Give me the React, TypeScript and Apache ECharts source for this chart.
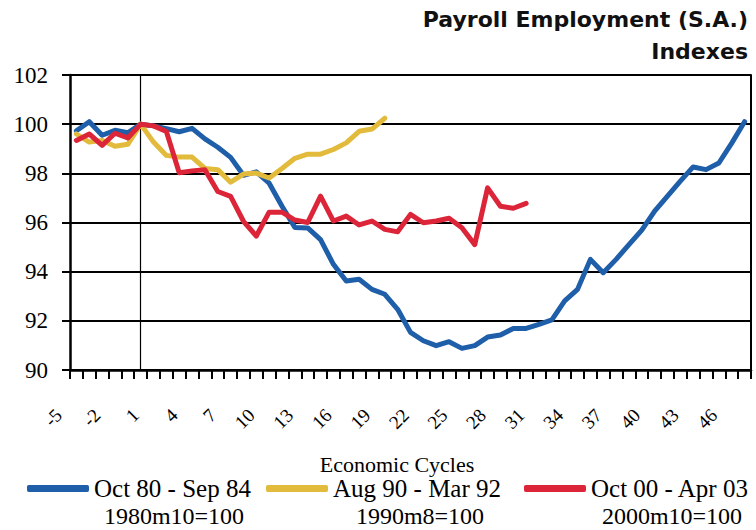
import React, { useEffect, useRef } from "react";
import * as echarts from "echarts";

// ---- data ----
const xCategories = [
  "-4", "-3", "-2", "-1", "0", "1", "2", "3", "4", "5", "6", "7", "8", "9", "10",
  "11", "12", "13", "14", "15", "16", "17", "18", "19", "20", "21", "22", "23", "24",
  "25", "26", "27", "28", "29", "30", "31", "32", "33", "34", "35", "36", "37", "38",
  "39", "40", "41", "42", "43", "44", "45", "46", "47", "48",
];
const xTickLabels = ["-5", "-2", "1", "4", "7", "10", "13", "16", "19", "22", "25", "28", "31", "34", "37", "40", "43", "46"];
const yTicks = [90, 92, 94, 96, 98, 100, 102];

const titleLines = ["Payroll Employment (S.A.)", "Indexes"];
const xAxisTitle = "Economic Cycles";
const seriesNames = ["Oct 80 - Sep 84", "Aug 90 - Mar 92", "Oct 00 - Apr 03"];
const seriesBases = ["1980m10=100", "1990m8=100", "2000m10=100"];
const seriesColors = ["#1f5ea8", "#e2bb3c", "#dc2538"];

const cycle1980 = [
  99.73, 100.1, 99.55, 99.75, 99.65, 100.0, 99.93, 99.82, 99.69, 99.83, 99.4, 99.06, 98.65,
  97.92, 98.06, 97.6, 96.66, 95.8, 95.78, 95.3, 94.3, 93.62, 93.69, 93.28, 93.08, 92.47,
  91.53, 91.19, 90.99, 91.15, 90.88, 90.99, 91.34, 91.42, 91.69, 91.69, 91.86, 92.04,
  92.81, 93.28, 94.5, 93.96, 94.5, 95.1, 95.69, 96.46, 97.07, 97.68, 98.26, 98.15, 98.42,
  99.23, 100.1,
];
const cycle1990 = [
  99.6, 99.27, 99.34, 99.1, 99.18, 100.0, 99.27, 98.73, 98.66, 98.66, 98.2, 98.15, 97.64,
  97.97, 98.01, 97.81, 98.2, 98.61, 98.78, 98.78, 98.97, 99.24, 99.71, 99.8, 100.24,
];
const cycle2000 = [
  99.34, 99.6, 99.14, 99.63, 99.44, 100.0, 99.93, 99.7, 98.02, 98.1, 98.15, 97.26, 97.06,
  96.05, 95.45, 96.42, 96.42, 96.1, 96.0, 97.07, 96.06, 96.26, 95.9, 96.06, 95.72, 95.62,
  96.33, 95.99, 96.06, 96.17, 95.79, 95.1, 97.41, 96.66, 96.58, 96.78,
];
const seriesData = [cycle1980, cycle1990, cycle2000];
const peakCategory = "1";

const SERIF = "'Liberation Serif', 'Times New Roman', serif";
const SANS = "'DejaVu Sans', sans-serif";
const X_LABEL_MARGIN = 37;
const X_LABEL_SIZE = 19;
const X_LABEL_PAD = 7;

export default function App() {
  const ref = useRef<HTMLDivElement>(null);

  useEffect(() => {
    if (!ref.current) return;
    const chart = echarts.init(ref.current, undefined, { renderer: "svg" });

    const titleStyle = {
      fontFamily: SANS,
      fontWeight: "bold",
      fontSize: 22,
      color: "#111",
    };
    const legendLefts = [27, 266, 524];

    const option: any = {
      animation: false,
      backgroundColor: "#ffffff",
      title: [
        { text: titleLines[0], right: 8, top: 8, padding: 0, textStyle: titleStyle },
        { text: titleLines[1], right: 8, top: 40, padding: 0, textStyle: titleStyle },
      ],
      grid: { left: 70, right: 5, top: 75, bottom: 160 },
      legend: seriesNames.map((name, i) => ({
        data: [name],
        left: legendLefts[i],
        top: 476,
        padding: 0,
        itemWidth: 62,
        itemHeight: 7,
        icon: "roundRect",
        textStyle: { fontFamily: SERIF, fontSize: 25, color: "#000" },
      })),
      xAxis: {
        type: "category",
        data: xCategories,
        boundaryGap: true,
        axisLine: { show: true, lineStyle: { color: "#000", width: 2.5 } },
        axisTick: { show: true, interval: 0, length: 9, lineStyle: { color: "#000", width: 2 } },
        axisLabel: {
          interval: (_i: number, v: string) => xTickLabels.includes(v),
          rotate: 45,
          margin: X_LABEL_MARGIN,
          padding: [0, X_LABEL_PAD, 0, 0],
          fontFamily: SERIF,
          fontSize: X_LABEL_SIZE,
          color: "#000",
        },
        splitLine: { show: false },
      },
      yAxis: [
        {
          type: "value",
          min: yTicks[0],
          max: yTicks[yTicks.length - 1],
          interval: 2,
          axisLine: { show: true, lineStyle: { color: "#000", width: 2.5 } },
          axisTick: { show: true, length: 8, lineStyle: { color: "#000", width: 2 } },
          axisLabel: { margin: 22, fontFamily: SERIF, fontSize: 23, color: "#000" },
          splitLine: { show: true, lineStyle: { color: "#000", width: 2 } },
        },
        {
          type: "value",
          position: "right",
          min: yTicks[0],
          max: yTicks[yTicks.length - 1],
          interval: 2,
          axisLine: { show: true, lineStyle: { color: "#000", width: 2 } },
          axisTick: { show: false },
          axisLabel: { show: false },
          splitLine: { show: false },
        },
      ],
      series: seriesNames.map((name, i) => ({
        name,
        type: "line",
        data: seriesData[i],
        showSymbol: false,
        symbol: "none",
        color: seriesColors[i],
        lineStyle: { color: seriesColors[i], width: 5, cap: "round", join: "round" },
        z: 3 + i,
        markLine:
          i === 0
            ? {
                silent: true,
                symbol: "none",
                label: { show: false },
                lineStyle: { color: "#000", width: 1.2, type: "solid" },
                data: [{ xAxis: peakCategory }],
                z: 1,
              }
            : undefined,
      })),
    };
    chart.setOption(option);

    // extra tick labels falling outside the plotted categories (e.g. "-5")
    const p0 = chart.convertToPixel({ xAxisIndex: 0 }, xCategories[0]) as number;
    const p1 = chart.convertToPixel({ xAxisIndex: 0 }, xCategories[1]) as number;
    const step = p1 - p0;
    const yBase = chart.convertToPixel({ yAxisIndex: 0 }, yTicks[0]) as number;
    const first = Number(xCategories[0]);
    const extras = xTickLabels
      .filter((l) => !xCategories.includes(l))
      .map((l) => ({
        type: "text",
        x: p0 + (Number(l) - first) * step,
        y: yBase + X_LABEL_MARGIN,
        rotation: Math.PI / 4,
        style: {
          text: l,
          align: "right",
          verticalAlign: "middle",
          padding: [0, X_LABEL_PAD, 0, 0],
          font: `${X_LABEL_SIZE}px ${SERIF}`,
          fill: "#000",
        },
      }));

    const legendCenters = [174, 420, 672];
    const subs = seriesBases.map((t, i) => ({
      type: "text",
      x: legendCenters[i],
      y: 516,
      style: { text: t, align: "center", verticalAlign: "middle", font: `24px ${SERIF}`, fill: "#000" },
    }));

    chart.setOption({
      graphic: [
        ...extras,
        {
          type: "text",
          x: 397,
          y: 464,
          style: {
            text: xAxisTitle,
            align: "center",
            verticalAlign: "middle",
            font: `22px ${SERIF}`,
            fill: "#000",
          },
        },
        ...subs,
      ],
    });

    return () => chart.dispose();
  }, []);

  return (
    <div
      ref={ref}
      style={{ position: "absolute", left: 0, top: 0, width: 756, height: 530, overflow: "hidden" }}
    />
  );
}
